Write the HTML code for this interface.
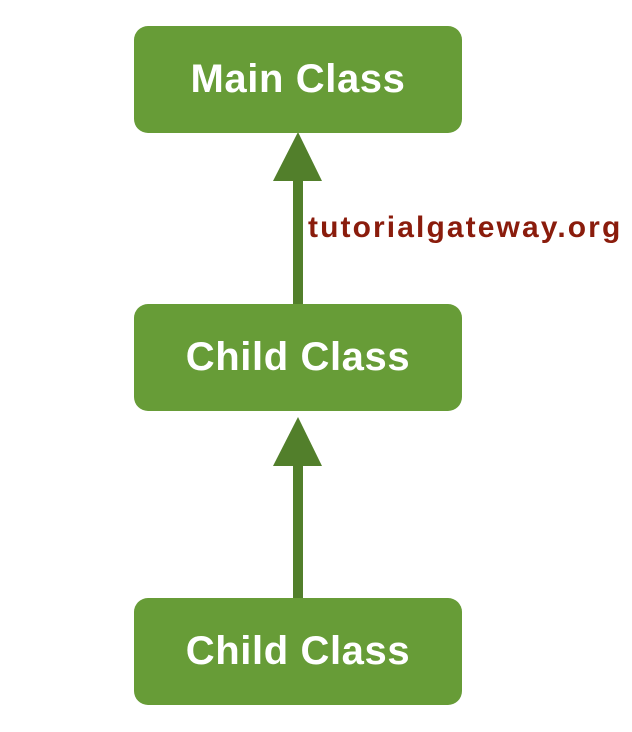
<!DOCTYPE html>
<html><head><style>
body{margin:0;width:632px;height:732px;background:#fff;position:relative;overflow:hidden;font-family:"Liberation Sans",sans-serif}
.b{position:absolute;left:134px;width:328px;height:107px;background:#679c37;border-radius:14px;color:#fff;font-weight:bold;font-size:40px;letter-spacing:0.6px;display:flex;align-items:center;justify-content:center}
.w{position:absolute;left:308px;top:211px;font-size:30px;font-weight:bold;color:#8a1c0c;letter-spacing:2.1px;white-space:nowrap}
</style></head><body>
<svg width="632" height="732" style="position:absolute;left:0;top:0">
<rect x="293" y="175" width="10" height="139" fill="#527f2b"/>
<polygon points="298,132 273,181 322,181" fill="#527f2b"/>
<rect x="293" y="460" width="10" height="140" fill="#527f2b"/>
<polygon points="298,417 273,466 322,466" fill="#527f2b"/>
</svg>
<div class="b" style="top:26px">Main Class</div>
<div class="b" style="top:304px">Child Class</div>
<div class="b" style="top:598px">Child Class</div>
<div class="w">tutorialgateway.org</div>
</body></html>
